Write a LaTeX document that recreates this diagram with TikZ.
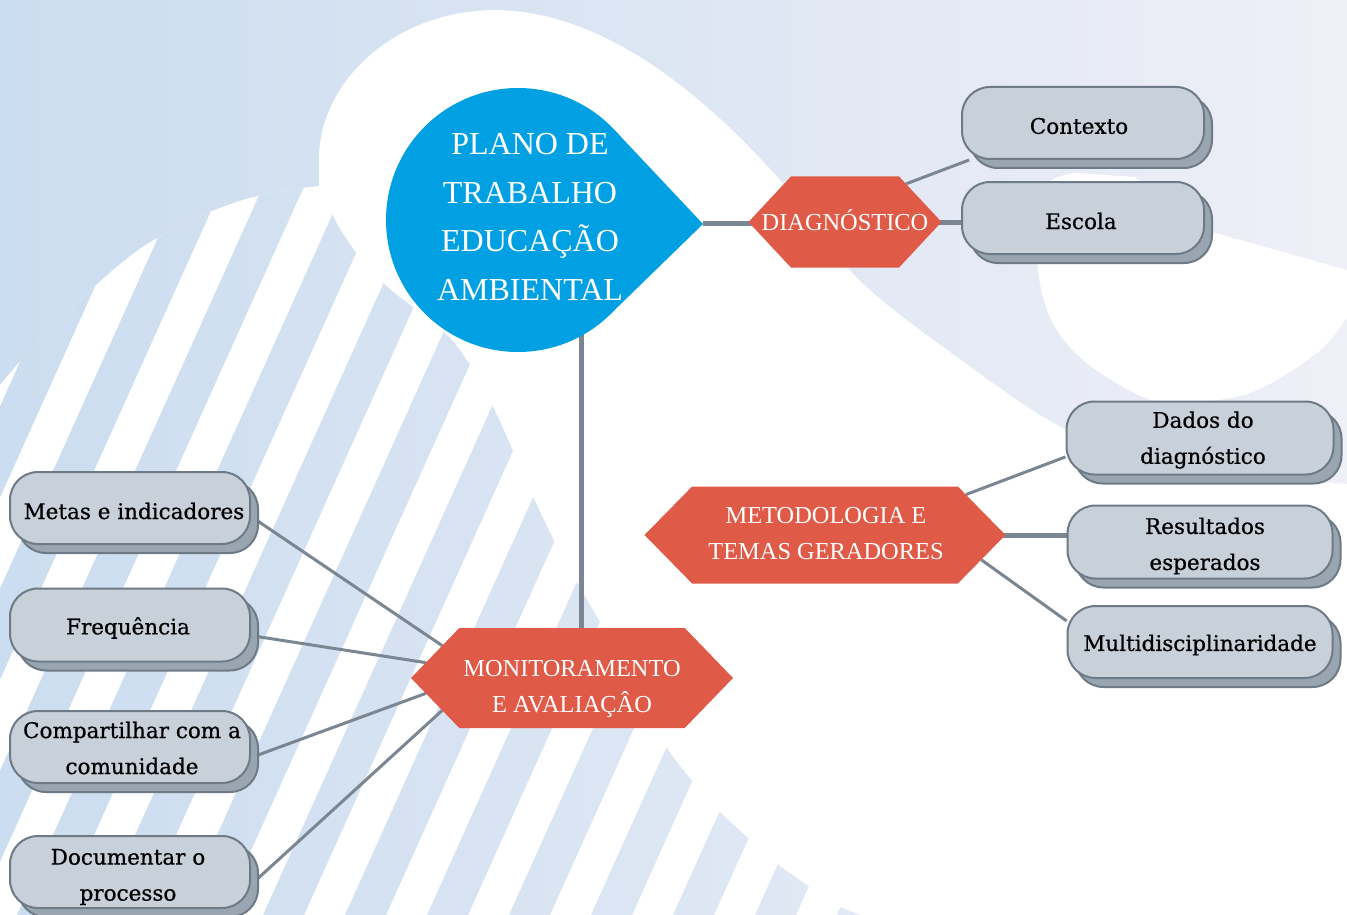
\documentclass[tikz,border=0pt]{standalone}
\usepackage{fontspec}
\setmainfont{Liberation Serif}
\newfontfamily\boxfont[FakeBold=0.7]{DejaVu Serif}
\usetikzlibrary{shapes.symbols,shadows,calc}

\definecolor{bgleft}{RGB}{203,221,240}
\definecolor{bgright}{RGB}{239,239,247}
\definecolor{tealblue}{RGB}{0,160,227}
\definecolor{hexred}{RGB}{224,90,72}
\definecolor{linegray}{RGB}{122,134,145}
\definecolor{boxfill}{RGB}{200,208,218}
\definecolor{boxshadow}{RGB}{153,165,177}
\definecolor{boxborder}{RGB}{110,122,133}

\pgfdeclarelayer{bg}
\pgfdeclarelayer{edges}
\pgfsetlayers{bg,edges,main}

\begin{document}
\begin{tikzpicture}[x=1pt,y=-1pt,
  hexa/.style={shape=signal, signal to=west and east, fill=hexred, draw=none, inner sep=0pt, outer sep=0pt},
  hexlabel/.style={text=white, font=\fontsize{24.4}{36}\selectfont, align=center, inner sep=0pt},
  pill/.style={rectangle, rounded corners=28pt, fill=boxfill, draw=boxborder, line width=2pt,
    font=\boxfont\fontsize{21.5}{36}\selectfont, align=center, inner sep=0pt,
    general shadow={shadow xshift=8pt, shadow yshift=-9pt, fill=boxshadow, draw=boxborder, line width=2pt}},
  pilltext/.style={font=\boxfont\fontsize{21.5}{36}\selectfont, align=center, inner sep=0pt, text=black},
  conn/.style={draw=linegray, line width=3pt},
  trunk/.style={draw=linegray, line width=5pt}]
\useasboundingbox (0,0) rectangle (1347,915);

\begin{pgfonlayer}{bg}
  \shade[left color=bgleft,right color=bgright] (0,0) rectangle (1347,915);
  % large white blob
  \fill[white] (319,186) -- (319,157) .. controls (320,85) and (390,12) .. (493,10)
    .. controls (600,10) and (700,90) .. (780,180)
    -- plot[smooth,tension=0.5] coordinates {(780,180) (857,278) (950,352) (1067,430) (1200,470) (1347,484)}
    -- (1347,915) -- (0,915) -- (0,385)
    -- plot[smooth,tension=0.7] coordinates {(0,385) (42,338) (119,265) (174,229) (228,205) (272,193) (319,186)} -- cycle;
  % right white shape
  \fill[white] (1075,173) -- (1135,177) -- (1205,230) -- (1347,270) -- (1347,317)
    -- plot[smooth,tension=0.6] coordinates {(1347,317) (1317,353) (1250,393) (1183,402) (1143,397) (1083,360) (1050,317) (1037,260) (1041,200) (1052,180) (1075,173)} -- cycle;
  % stripes
  \begin{scope}
    \clip plot[smooth,tension=0.7] coordinates {(0,385) (42,338) (119,265) (174,229) (228,205) (272,193) (319,186)}
      -- plot[smooth,tension=0.6] coordinates {(319,186) (339,227) (364,263) (391,290) (421,313) (450,338) (475,373) (496,413) (517,460) (536,503) (560,552) (590,605) (622,660) (650,715) (667,748) (693,782) (719,811) (748,838) (776,863) (807,885) (837,905) (860,915)}
      -- (0,915) -- cycle;
    \clip \foreach \k in {-12,...,6} {(427+82*\k,915) -- ++(41,0) -- ++(412,-915) -- ++(-41,0) -- cycle};
    \shade[left color=bgleft,right color=bgright] (0,0) rectangle (1347,915);
  \end{scope}
\end{pgfonlayer}

% central teardrop
\fill[tealblue] (518,220) circle[radius=132pt];
\fill[tealblue] (614,129.5) -- (703,224) -- (610,314.5) -- (518,220) -- cycle;
\coordinate (tip) at (703,223);
\coordinate (stem) at (581,330);
\node[text=white, font=\fontsize{32}{48.7}\selectfont, align=center, inner sep=0pt] (title) at (530,217)
  {PLANO DE\\TRABALHO\\EDUCAÇÃO\\AMBIENTAL};

% hexagons
\node[hexa, signal pointer angle=94, minimum width=193pt, minimum height=91pt] (diag) at (845,222) {};
\node[hexlabel] (diagt) at (845,220) {DIAGNÓSTICO};
\node[hexa, signal pointer angle=91, minimum width=361pt, minimum height=97pt] (metod) at (825,535) {};
\node[hexlabel] (metodt) at (826,533.5) {METODOLOGIA E\\TEMAS GERADORES};
\node[hexa, signal pointer angle=92, minimum width=322pt, minimum height=100pt] (monit) at (572,678) {};
\node[hexlabel] (monitt) at (572,689) {MONITORAMENTO\\E AVALIAÇÂO};

% pills (box shapes)
\node[pill, minimum width=242pt, minimum height=72pt] (ctx) at (1083,123) {};
\node[pill, minimum width=242pt, minimum height=72pt] (esc) at (1083,218) {};
\node[pill, minimum width=267pt, minimum height=73pt] (dados) at (1200,438) {};
\node[pill, minimum width=265pt, minimum height=73pt] (result) at (1200,542) {};
\node[pill, minimum width=265pt, minimum height=72pt] (multi) at (1200,642) {};
\node[pill, minimum width=240pt, minimum height=72pt] (metas) at (130,508) {};
\node[pill, minimum width=240pt, minimum height=73pt] (freq) at (130,625) {};
\node[pill, minimum width=240pt, minimum height=72pt] (comp) at (130,747) {};
\node[pill, minimum width=240pt, minimum height=72pt] (doc) at (130,872) {};

% pill labels
\node[pilltext] (ctxt) at (1079,126) {Contexto};
\node[pilltext] (esct) at (1081,221) {Escola};
\node[pilltext] (dadost) at (1203,440) {Dados do\\diagnóstico};
\node[pilltext] (resultt) at (1205,546) {Resultados\\esperados};
\node[pilltext] (multit) at (1200,645) {Multidisciplinaridade};
\node[pilltext] (metast) at (134,511) {Metas e indicadores};
\node[pilltext] (freqt) at (128,628) {Frequência};
\node[pilltext] (compt) at (132,748) {Compartilhar com a\\comunidade};
\node[pilltext] (doct) at (128,877) {Documentar o\\processo};

\begin{pgfonlayer}{edges}
  \draw[trunk] (tip) -- (tip -| diag.center);
  \draw[trunk] (stem) -- (stem |- monit.center);
  \draw[trunk] (diag.center) -- (diag.center -| esc.center);
  \draw[trunk] (metod.center) -- (metod.center -| result.center);
  \draw[conn] (diag.32) -- (ctx.198);
  \draw[conn] (metod.16) -- (dados.188);
  \draw[conn] (metod.351) -- (multi.171);
  \draw[conn] (monit.166) -- (metas.356);
  \draw[conn] (monit.174) -- (freq.355);
  \draw[conn] (monit.186) -- (comp.355);
  \draw[conn] (monit.194) -- (doc.354);
\end{pgfonlayer}
\end{tikzpicture}
\end{document}
